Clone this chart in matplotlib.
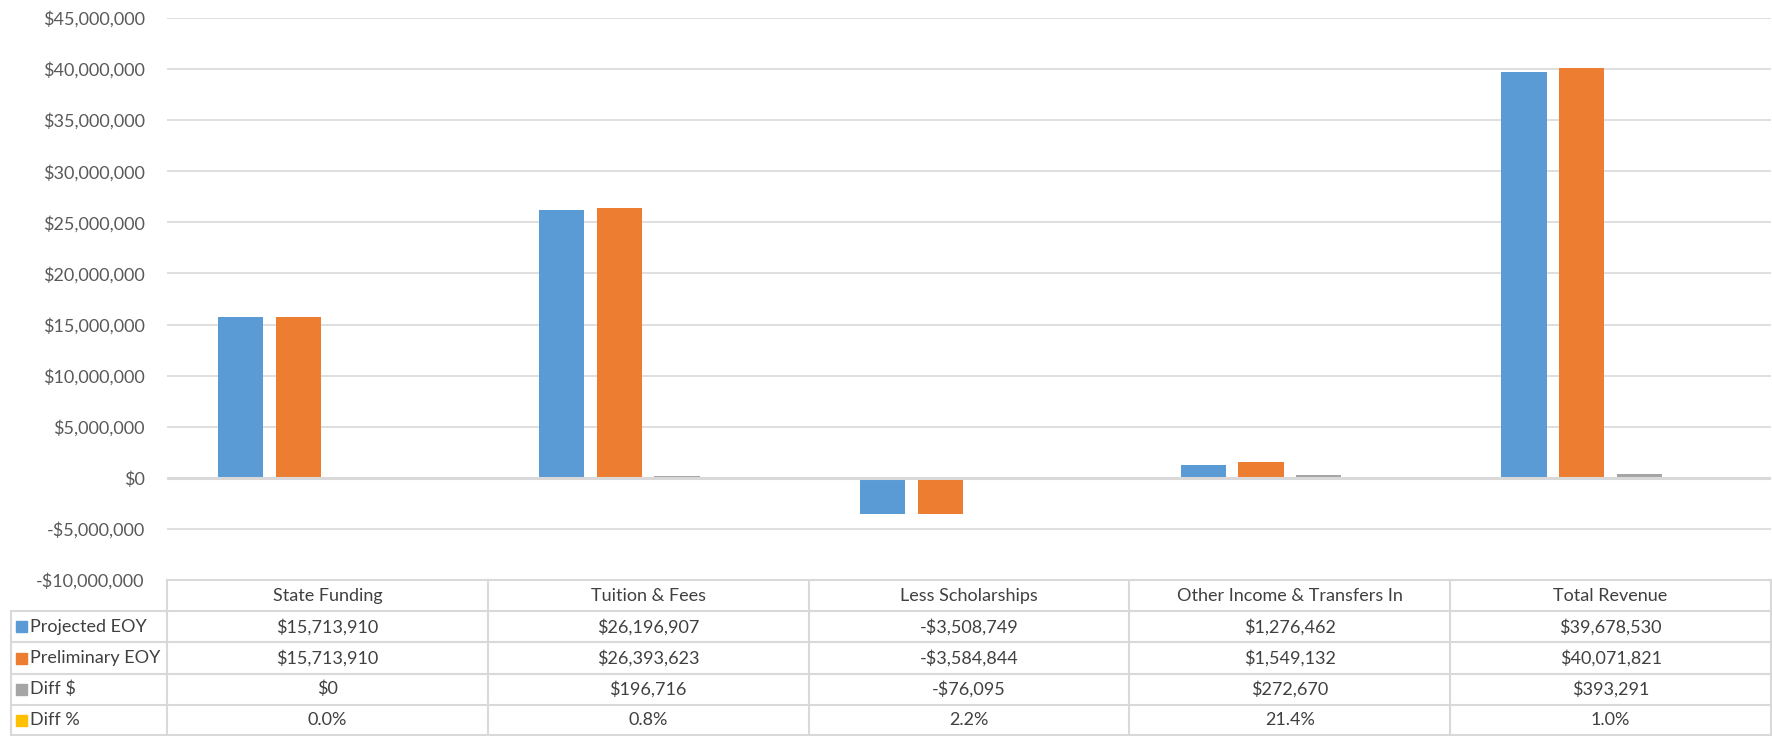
import numpy as np
import matplotlib.pyplot as plt
from matplotlib.ticker import FuncFormatter, MultipleLocator

plt.rcParams['font.family'] = ['Lato', 'DejaVu Sans']

categories = ['State Funding', 'Tuition & Fees', 'Less Scholarships',
              'Other Income & Transfers In', 'Total Revenue']
projected = [15713910, 26196907, -3508749, 1276462, 39678530]
preliminary = [15713910, 26393623, -3584844, 1549132, 40071821]
diff_dollar = [0, 196716, -76095, 272670, 393291]
diff_pct = [0.000, 0.008, 0.022, 0.214, 0.010]

series_names = ['Projected EOY', 'Preliminary EOY', 'Diff $', 'Diff %']
colors = ['#5B9BD5', '#ED7D31', '#A5A5A5', '#FFC000']
series = [projected, preliminary, diff_dollar, diff_pct]

W, H = 1772, 736
fig = plt.figure(figsize=(W / 100, H / 100), dpi=100)

ax_left, ax_right = 167 / W, 1771 / W
ax_top, ax_bot = 1 - 18 / H, 1 - 580 / H
ax = fig.add_axes([ax_left, ax_bot, ax_right - ax_left, ax_top - ax_bot])

x = np.arange(len(categories))
bw = 0.141
step = 0.18
for i, (vals, c) in enumerate(zip(series, colors)):
    ax.bar(x + (i - 1.5) * step, vals, bw, color=c, zorder=3)

ax.set_xlim(-0.5, len(categories) - 0.5)
ax.set_ylim(-10e6, 45e6)
ax.yaxis.set_major_locator(MultipleLocator(5e6))


def money(v, pos=None):
    s = '${:,.0f}'.format(abs(v))
    return '-' + s if v < 0 else s


ax.yaxis.set_major_formatter(FuncFormatter(money))
ax.grid(axis='y', color='#D9D9D9', linewidth=1.2, zorder=0)
ax.axhline(0, color='#D9D9D9', linewidth=2.2, zorder=4)
for s in ax.spines.values():
    s.set_visible(False)
ax.tick_params(axis='y', length=0, pad=16, labelsize=13, labelcolor='#595959')
ax.set_xticks([])

# data table below the plot
grid_c = '#D9D9D9'
txt_c = '#404040'
row_h = 31.2 / H
tab_top = ax_bot
lbl_left = 11 / W
col_w = (ax_right - ax_left) / len(categories)
n_rows = len(series)


def hline(y, x0, x1):
    fig.add_artist(plt.Line2D([x0, x1], [y, y], color=grid_c, lw=1.5))


def vline(xv, y0, y1):
    fig.add_artist(plt.Line2D([xv, xv], [y0, y1], color=grid_c, lw=1.5))


hline(tab_top, ax_left, ax_right)
for r in range(1, n_rows + 1):
    hline(tab_top - r * row_h, lbl_left, ax_right)
hline(0.001, lbl_left, ax_right)
vline(lbl_left, 0, tab_top - row_h)
for j in range(len(categories) + 1):
    vline(ax_left + j * col_w, 0, tab_top)

for j, cat in enumerate(categories):
    fig.text(ax_left + (j + 0.5) * col_w, tab_top - 0.5 * row_h, cat,
             ha='center', va='center', fontsize=13, color=txt_c)

for r, (name, vals, c) in enumerate(zip(series_names, series, colors)):
    yc = tab_top - (r + 1.5) * row_h
    fig.add_artist(plt.Rectangle((16 / W, yc - 5.5 / H), 11 / W, 11 / H,
                                 color=c, transform=fig.transFigure))
    fig.text(30 / W, yc, name, ha='left', va='center', fontsize=13, color=txt_c)
    for j, v in enumerate(vals):
        if name == 'Diff %':
            s = '{:.1%}'.format(v)
        else:
            s = money(v)
        fig.text(ax_left + (j + 0.5) * col_w, yc, s,
                 ha='center', va='center', fontsize=13, color=txt_c)

fig.savefig('out.png', dpi=100)
